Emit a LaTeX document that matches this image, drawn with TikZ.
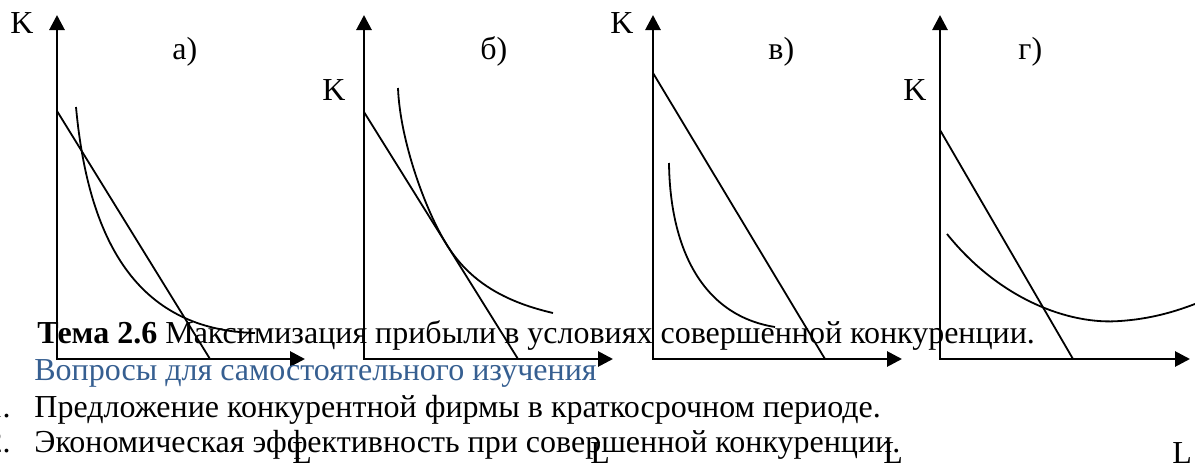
\documentclass[tikz,border=0pt]{standalone}
\usepackage{fontspec}
\setmainfont{Liberation Serif}
\usetikzlibrary{arrows.meta,calc}
\definecolor{headblue}{RGB}{54,95,145}
\tikzset{
  axis line/.style = {{Triangle[length=7.5pt,width=7.5pt]}-{Triangle[length=7.5pt,width=7.5pt]},
                      line width=1.4pt},
  budget/.style    = {line width=0.9pt},
  isoquant/.style  = {line width=0.9pt},
  axlabel/.style   = {font=\fontsize{16}{19}\selectfont, anchor=base west, inner sep=0pt},
  bodytext/.style  = {font=\fontsize{16}{19}\selectfont, anchor=base west, inner sep=0pt},
}

\begin{document}
\begin{tikzpicture}[x=0.5pt,y=-0.5pt]
  \useasboundingbox (0,0) rectangle (1195,466);

  % а)
  \coordinate (Ka) at (57,15);
  \coordinate (Oa) at (57,359);
  \coordinate (La) at (305,359);
  \draw[axis line] (Ka) -- (Oa) -- (La);
  \coordinate (Ba1) at (57,111);
  \coordinate (Ba2) at (210,359);
  \draw[budget] (Ba1) -- (Ba2);
  \draw[isoquant] (76,107) .. controls (90,260) and (150,330) .. (255,333);
  \node[axlabel] (ka) at (10,33) {K};
  \node[axlabel] (ta) at (172,60) {а)};
  \node[axlabel] (la) at (292,463) {L};

  % б)
  \coordinate (Kb) at (364,15);
  \coordinate (Ob) at (364,359);
  \coordinate (Lb) at (613,359);
  \draw[axis line] (Kb) -- (Ob) -- (Lb);
  \coordinate (Bb1) at (364,112);
  \coordinate (Bb2) at (518,359);
  \draw[budget] (Bb1) -- (Bb2);
  \coordinate (Tb) at ($(Bb1)!0.54!(Bb2)$);
  \draw[isoquant] (398,88) .. controls (400,140) and (425,210) .. (Tb)
                  .. controls (472,285) and (510,303) .. (553,313);
  \node[axlabel] (kb) at (322,100) {K};
  \node[axlabel] (tb) at (480,60) {б)};
  \node[axlabel] (lb) at (590,463) {L};

  % в)
  \coordinate (Kc) at (653,15);
  \coordinate (Oc) at (653,359);
  \coordinate (Lc) at (902,359);
  \draw[axis line] (Kc) -- (Oc) -- (Lc);
  \coordinate (Bc1) at (653,73);
  \coordinate (Bc2) at (825,359);
  \draw[budget] (Bc1) -- (Bc2);
  \draw[isoquant] (669,163) .. controls (670,245) and (700,315) .. (775,327);
  \node[axlabel] (kc) at (610,33) {K};
  \node[axlabel] (tc) at (768,60) {в)};
  \node[axlabel] (lc) at (883,463) {L};

  % г)
  \coordinate (Kd) at (940,15);
  \coordinate (Od) at (940,359);
  \coordinate (Ld) at (1190,359);
  \draw[axis line] (Kd) -- (Od) -- (Ld);
  \coordinate (Bd1) at (940,130);
  \coordinate (Bd2) at (1073,359);
  \draw[budget] (Bd1) -- (Bd2);
  \draw[isoquant] (947,234) .. controls (1000,300) and (1070,325) .. (1120,321)
                  .. controls (1150,319) and (1175,312) .. (1200,302);
  \node[axlabel] (kd) at (903,100) {K};
  \node[axlabel] (td) at (1018,60) {г)};
  \node[axlabel] (ld) at (1172,463) {L};

  % text
  \node[bodytext] (topic) at (37,343) {\bfseries Тема 2.6\mdseries{} Максимизация прибыли в условиях совершенной конкуренции.};
  \node[bodytext, text=headblue] (quest) at (34,380) {Вопросы для самостоятельного изучения};
  \node[bodytext, anchor=base east] (n1) at (11,417) {1.};
  \node[bodytext] (q1) at (34,417) {Предложение конкурентной фирмы в краткосрочном периоде.};
  \node[bodytext, anchor=base east] (n2) at (11,452) {2.};
  \node[bodytext] (q2) at (34,452) {Экономическая эффективность при совершенной конкуренции.};
\end{tikzpicture}
\end{document}
